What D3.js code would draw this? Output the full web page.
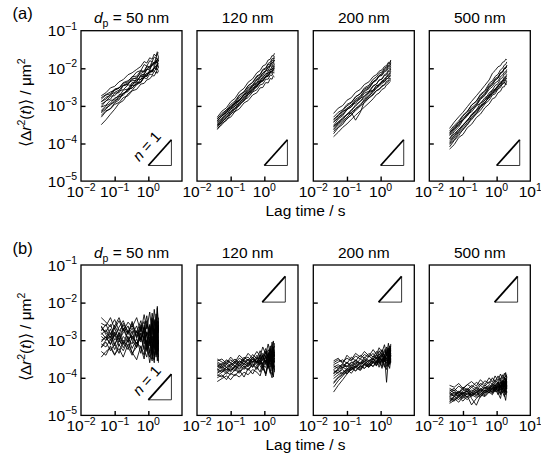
<!DOCTYPE html>
<html><head><meta charset="utf-8">
<script src="https://cdn.jsdelivr.net/npm/d3@7"></script>
<style>body{margin:0;background:#fff}svg{display:block}</style>
</head><body>
<svg id="c" width="541" height="466"></svg>
<script>
// lag times (s) shared by every trajectory
const lagTimes = [0.04,0.055,0.075,0.1,0.135,0.18,0.25,0.33,0.45,0.6,0.75,0.9,1.1,1.3,1.5,1.7,1.85,2.0];
const diameters = ["50", "120", "200", "500"];
const rowLabels = ["(a)", "(b)"];
const xTickExps = [-2, -1, 0, 1];
const yTickExps = [-1, -2, -3, -4, -5];
// MSD values as 100 × log10(MSD / µm²), one row per trajectory
const msdA50 = [
[-273,-265,-252,-248,-236,-230,-217,-212,-203,-195,-182,-186,-172,-176,-162,-168,-156,-160],
[-282,-271,-268,-255,-252,-240,-236,-222,-221,-206,-210,-196,-199,-186,-190,-178,-186,-176],
[-290,-277,-272,-258,-253,-238,-233,-224,-210,-206,-190,-194,-180,-182,-170,-173,-160,-170],
[-295,-288,-274,-273,-260,-257,-244,-246,-228,-230,-215,-220,-205,-210,-198,-203,-192,-198],
[-302,-286,-282,-266,-265,-246,-243,-226,-228,-208,-207,-194,-196,-182,-186,-172,-178,-170],
[-303,-298,-285,-284,-270,-268,-255,-252,-240,-237,-225,-228,-215,-218,-208,-212,-202,-206],
[-312,-300,-293,-279,-275,-258,-255,-238,-236,-218,-217,-202,-205,-190,-196,-182,-188,-178],
[-318,-309,-295,-290,-275,-272,-256,-253,-238,-236,-220,-222,-208,-210,-198,-204,-190,-196],
[-325,-313,-308,-296,-291,-278,-273,-260,-256,-242,-240,-231,-228,-220,-220,-211,-213,-207],
[-330,-315,-307,-292,-284,-267,-259,-242,-236,-219,-215,-204,-201,-190,-188,-180,-179,-172],
[-278,-270,-263,-258,-252,-245,-239,-233,-232,-222,-221,-213,-213,-205,-208,-200,-203,-197],
[-350,-337,-322,-309,-293,-286,-268,-259,-243,-238,-222,-220,-208,-207,-197,-197,-188,-192],
[-288,-282,-270,-264,-258,-246,-242,-230,-224,-214,-208,-203,-195,-193,-184,-186,-176,-180],
[-315,-305,-298,-286,-281,-266,-262,-246,-244,-228,-226,-214,-211,-203,-200,-193,-191,-186]];
const msdA120 = [
[-330,-314,-305,-289,-280,-263,-253,-237,-228,-212,-206,-194,-190,-178,-176,-166,-168,-160],
[-335,-320,-311,-296,-287,-271,-262,-246,-238,-223,-217,-205,-202,-190,-189,-178,-180,-172],
[-338,-328,-313,-307,-292,-285,-270,-262,-247,-241,-229,-226,-214,-214,-203,-204,-196,-197],
[-342,-326,-316,-300,-291,-273,-263,-247,-237,-220,-216,-203,-199,-187,-184,-174,-175,-168],
[-345,-333,-318,-310,-295,-286,-270,-262,-246,-238,-223,-219,-207,-205,-194,-194,-186,-186],
[-348,-338,-322,-316,-300,-293,-276,-270,-254,-248,-235,-233,-221,-219,-209,-209,-201,-202],
[-351,-335,-325,-309,-300,-283,-272,-256,-247,-231,-225,-213,-208,-198,-194,-185,-185,-178],
[-354,-344,-329,-323,-307,-300,-284,-278,-263,-257,-244,-242,-229,-229,-218,-219,-210,-212],
[-357,-341,-332,-316,-307,-290,-280,-265,-256,-240,-234,-222,-218,-207,-204,-195,-195,-188],
[-360,-350,-335,-330,-315,-308,-292,-286,-271,-265,-252,-251,-238,-239,-227,-229,-220,-223],
[-333,-324,-310,-305,-291,-287,-271,-266,-251,-248,-234,-234,-222,-222,-211,-213,-204,-207],
[-363,-346,-339,-321,-314,-295,-287,-269,-262,-244,-240,-227,-224,-212,-210,-200,-201,-193],
[-340,-326,-318,-302,-294,-278,-268,-252,-244,-228,-222,-212,-206,-196,-192,-184,-183,-178],
[-352,-342,-330,-318,-306,-296,-282,-272,-258,-250,-238,-234,-224,-220,-212,-208,-204,-200]];
const msdA200 = [
[-320,-306,-299,-285,-278,-264,-256,-243,-236,-222,-217,-208,-204,-195,-193,-184,-186,-178],
[-330,-317,-310,-296,-290,-276,-268,-255,-249,-235,-231,-221,-219,-209,-207,-199,-200,-193],
[-338,-323,-313,-300,-292,-276,-267,-252,-245,-229,-223,-213,-210,-199,-197,-187,-188,-180],
[-344,-330,-323,-309,-303,-288,-281,-266,-261,-246,-242,-231,-229,-219,-218,-208,-210,-202],
[-352,-335,-326,-310,-302,-286,-277,-262,-254,-238,-232,-220,-217,-206,-204,-194,-195,-188],
[-356,-345,-331,-323,-310,-301,-287,-280,-266,-259,-246,-244,-233,-232,-222,-221,-214,-215],
[-362,-347,-337,-322,-314,-297,-288,-273,-264,-248,-242,-232,-228,-217,-214,-205,-205,-198],
[-368,-357,-344,-335,-323,-313,-300,-292,-279,-271,-259,-257,-246,-244,-234,-233,-226,-227],
[-374,-358,-349,-333,-325,-308,-299,-284,-275,-259,-253,-242,-238,-227,-224,-215,-215,-208],
[-382,-370,-357,-348,-336,-325,-313,-303,-292,-281,-270,-266,-256,-253,-244,-241,-236,-233],
[-335,-327,-314,-310,-297,-293,-279,-275,-262,-258,-246,-246,-236,-235,-227,-227,-220,-221],
[-355,-342,-334,-323,-318,-338,-317,-288,-278,-268,-260,-255,-249,-244,-239,-235,-232,-230],
[-342,-333,-318,-306,-298,-282,-274,-259,-252,-236,-229,-219,-214,-203,-200,-192,-192,-185],
[-364,-351,-340,-330,-318,-307,-296,-284,-272,-264,-252,-248,-240,-236,-229,-225,-220,-218]];
const msdA500 = [
[-360,-343,-329,-317,-302,-288,-273,-260,-245,-231,-213,-206,-196,-193,-184,-182,-176,-177],
[-367,-352,-340,-325,-314,-298,-288,-272,-262,-245,-238,-227,-223,-211,-209,-199,-200,-193],
[-373,-356,-344,-327,-316,-298,-287,-269,-259,-240,-233,-222,-216,-204,-200,-191,-190,-183],
[-379,-364,-351,-337,-325,-310,-299,-283,-272,-256,-249,-239,-234,-222,-218,-210,-210,-203],
[-387,-368,-356,-338,-327,-309,-298,-280,-270,-251,-244,-232,-226,-214,-210,-201,-200,-193],
[-391,-379,-362,-353,-337,-326,-311,-300,-284,-274,-262,-258,-246,-241,-232,-228,-223,-222],
[-397,-380,-368,-351,-340,-322,-311,-293,-284,-265,-258,-246,-241,-228,-225,-215,-215,-208],
[-403,-391,-373,-364,-348,-337,-321,-312,-295,-285,-271,-268,-255,-251,-240,-239,-231,-232],
[-409,-392,-379,-362,-351,-332,-321,-303,-292,-273,-266,-254,-249,-236,-233,-223,-223,-216],
[-415,-403,-384,-376,-358,-349,-331,-322,-305,-295,-281,-278,-265,-261,-250,-249,-241,-243],
[-370,-360,-344,-338,-322,-316,-300,-293,-278,-271,-258,-257,-245,-242,-233,-232,-225,-228],
[-388,-374,-363,-350,-339,-325,-314,-301,-291,-276,-269,-261,-255,-246,-243,-236,-243,-234],
[-376,-360,-349,-333,-321,-305,-294,-277,-267,-249,-242,-231,-226,-213,-210,-200,-200,-192],
[-400,-385,-369,-358,-344,-330,-317,-305,-290,-279,-266,-262,-250,-246,-236,-233,-228,-226]];
const msdB50 = [
[-255,-262,-240,-270,-248,-275,-252,-265,-240,-278,-232,-270,-225,-285,-218,-262,-210,-275],
[-270,-278,-258,-290,-265,-248,-280,-255,-295,-262,-300,-248,-310,-240,-298,-255,-318,-250],
[-285,-272,-295,-268,-300,-280,-262,-298,-275,-305,-260,-315,-268,-330,-250,-305,-262,-320],
[-300,-292,-310,-285,-315,-290,-305,-275,-318,-282,-325,-278,-300,-340,-272,-335,-285,-345],
[-310,-318,-298,-325,-302,-312,-290,-322,-296,-335,-288,-318,-345,-290,-352,-280,-338,-295],
[-320,-305,-328,-310,-335,-300,-318,-340,-305,-320,-350,-300,-332,-355,-295,-345,-310,-360],
[-330,-340,-315,-338,-322,-345,-310,-332,-352,-315,-340,-305,-360,-318,-342,-300,-355,-320],
[-275,-258,-285,-262,-240,-270,-282,-250,-288,-258,-272,-235,-290,-228,-265,-300,-215,-280],
[-240,-252,-265,-245,-275,-260,-285,-268,-292,-270,-250,-288,-262,-300,-245,-282,-305,-260],
[-345,-330,-320,-340,-312,-328,-300,-335,-318,-290,-325,-345,-298,-330,-360,-285,-325,-300],
[-290,-300,-280,-310,-292,-320,-298,-288,-310,-280,-295,-325,-275,-305,-320,-268,-298,-310],
[-262,-285,-300,-278,-292,-268,-295,-310,-275,-300,-265,-290,-315,-255,-290,-318,-270,-295],
[-305,-290,-312,-280,-305,-270,-300,-285,-262,-298,-275,-310,-258,-320,-270,-340,-248,-330],
[-280,-295,-270,-300,-285,-310,-275,-300,-320,-265,-310,-280,-335,-262,-300,-230,-322,-268],
[-318,-300,-290,-315,-280,-305,-325,-290,-310,-295,-270,-330,-290,-350,-275,-310,-290,-355],
[-265,-280,-292,-260,-285,-255,-278,-262,-280,-248,-290,-258,-280,-245,-325,-252,-300,-240]];
const msdB120 = [
[-355,-350,-362,-345,-358,-340,-352,-335,-348,-330,-342,-318,-338,-310,-335,-305,-325,-315],
[-362,-368,-355,-360,-350,-362,-345,-355,-338,-350,-328,-345,-322,-350,-315,-340,-320,-335],
[-370,-362,-372,-365,-358,-368,-352,-360,-345,-362,-340,-355,-330,-360,-325,-352,-318,-345],
[-378,-385,-372,-380,-368,-375,-362,-370,-355,-368,-350,-372,-345,-365,-338,-370,-335,-358],
[-385,-378,-390,-375,-382,-365,-378,-360,-372,-355,-368,-380,-352,-375,-345,-382,-350,-370],
[-392,-398,-385,-392,-378,-388,-372,-380,-365,-378,-360,-375,-388,-355,-378,-392,-360,-385],
[-400,-392,-405,-388,-395,-380,-398,-375,-390,-370,-385,-360,-395,-365,-388,-355,-398,-368],
[-410,-402,-395,-405,-390,-398,-385,-392,-378,-385,-395,-370,-390,-362,-385,-400,-365,-380],
[-365,-372,-360,-368,-355,-362,-350,-345,-358,-340,-350,-335,-345,-325,-340,-315,-330,-308],
[-375,-368,-380,-362,-372,-355,-365,-350,-372,-345,-360,-340,-365,-332,-355,-328,-362,-330],
[-388,-380,-372,-385,-368,-378,-362,-370,-358,-352,-365,-345,-358,-340,-372,-335,-348,-360],
[-350,-358,-365,-352,-362,-348,-355,-365,-345,-358,-340,-352,-330,-345,-322,-338,-302,-330],
[-368,-375,-365,-372,-360,-370,-355,-365,-350,-360,-345,-365,-340,-372,-338,-360,-330,-350],
[-395,-385,-378,-380,-372,-385,-368,-378,-362,-375,-355,-368,-372,-350,-365,-340,-375,-348],
[-380,-372,-385,-370,-378,-362,-370,-368,-350,-362,-352,-340,-362,-335,-358,-325,-345,-338],
[-358,-365,-352,-360,-368,-355,-362,-350,-360,-348,-355,-362,-342,-355,-335,-362,-328,-342]];
const msdB200 = [
[-355,-348,-362,-340,-352,-335,-345,-330,-342,-325,-338,-320,-332,-312,-340,-308,-330,-315],
[-365,-358,-352,-362,-345,-355,-340,-348,-335,-345,-330,-340,-325,-345,-318,-338,-322,-335],
[-372,-365,-375,-358,-368,-352,-362,-345,-355,-348,-340,-352,-335,-358,-330,-348,-325,-342],
[-380,-388,-372,-378,-365,-372,-358,-365,-352,-360,-345,-362,-340,-355,-338,-365,-332,-350],
[-388,-380,-390,-375,-380,-368,-375,-362,-370,-355,-365,-350,-370,-345,-360,-352,-340,-358],
[-395,-385,-378,-390,-372,-382,-368,-375,-362,-370,-355,-372,-350,-365,-378,-345,-362,-350],
[-402,-392,-385,-378,-388,-372,-380,-365,-372,-360,-368,-355,-375,-350,-362,-370,-345,-360],
[-412,-398,-388,-380,-372,-382,-368,-375,-362,-370,-358,-365,-352,-372,-348,-360,-375,-352],
[-425,-408,-395,-382,-375,-368,-375,-362,-368,-355,-362,-348,-358,-345,-355,-340,-365,-342],
[-438,-420,-405,-390,-378,-370,-362,-358,-365,-350,-358,-345,-352,-340,-412,-350,-345,-350],
[-368,-375,-362,-370,-358,-365,-350,-358,-342,-352,-338,-348,-332,-342,-325,-338,-315,-330],
[-378,-370,-365,-372,-360,-355,-362,-350,-358,-342,-350,-338,-345,-330,-342,-325,-338,-320],
[-390,-375,-368,-360,-372,-358,-365,-352,-360,-348,-355,-342,-352,-338,-350,-330,-345,-325],
[-360,-352,-358,-348,-355,-342,-350,-338,-345,-335,-350,-328,-342,-325,-338,-320,-348,-310],
[-415,-400,-392,-385,-378,-372,-380,-365,-372,-358,-368,-352,-362,-348,-370,-345,-358,-340],
[-385,-378,-372,-368,-375,-362,-370,-355,-365,-350,-360,-345,-355,-342,-350,-338,-362,-335]];
const msdB500 = [
[-420,-425,-415,-428,-418,-410,-422,-405,-418,-400,-412,-395,-408,-390,-402,-388,-398,-392],
[-428,-435,-422,-430,-418,-425,-412,-420,-408,-415,-400,-412,-395,-408,-392,-405,-386,-400],
[-435,-428,-440,-425,-432,-420,-428,-415,-422,-410,-418,-405,-415,-400,-420,-398,-410,-402],
[-442,-450,-438,-445,-432,-440,-428,-435,-425,-430,-418,-428,-412,-432,-408,-425,-405,-418],
[-448,-440,-452,-438,-445,-432,-440,-428,-435,-422,-430,-418,-435,-412,-428,-440,-410,-425],
[-455,-462,-448,-455,-442,-450,-438,-445,-432,-440,-425,-438,-420,-442,-415,-430,-445,-420],
[-462,-455,-465,-450,-458,-445,-452,-440,-448,-435,-442,-428,-445,-422,-438,-450,-425,-440],
[-468,-460,-452,-462,-448,-472,-455,-445,-450,-438,-445,-432,-440,-455,-428,-445,-460,-435],
[-450,-445,-438,-448,-435,-455,-473,-448,-440,-432,-438,-425,-435,-420,-430,-415,-438,-420],
[-440,-432,-445,-435,-428,-438,-425,-432,-420,-428,-415,-422,-410,-425,-405,-418,-400,-412],
[-458,-450,-445,-440,-452,-438,-445,-432,-440,-428,-435,-422,-430,-445,-418,-435,-410,-428],
[-432,-440,-448,-442,-435,-448,-440,-430,-438,-425,-432,-418,-428,-412,-425,-408,-420,-396],
[-445,-438,-442,-430,-438,-425,-435,-420,-430,-418,-425,-412,-422,-408,-418,-400,-415,-405],
[-465,-450,-458,-445,-452,-440,-448,-435,-445,-430,-440,-425,-438,-418,-432,-412,-428,-415],
[-438,-448,-435,-442,-430,-445,-432,-440,-425,-435,-420,-432,-415,-428,-410,-422,-405,-430],
[-452,-458,-446,-450,-440,-446,-436,-452,-432,-440,-428,-436,-422,-432,-440,-418,-428,-410]];
// slope-1 guide triangles: [x0, x1, y0, y1]
const guideLow = [1.0, 4.85, 2.6e-5, 1.26e-4];
const guideHigh = [0.87, 4.2, 1.03e-2, 5.0e-2];

const rows = [
  {label: rowLabels[0], data: [msdA50, msdA120, msdA200, msdA500], guides: [guideLow, guideLow, guideLow, guideLow]},
  {label: rowLabels[1], data: [msdB50, msdB120, msdB200, msdB500], guides: [guideLow, guideHigh, guideHigh, guideHigh]}
];

const FONT = "'Liberation Sans', Arial, Helvetica, sans-serif";
const svg = d3.select("#c").attr("font-family", FONT);
const lefts = [81, 197, 313.3, 429.3];
const pw = 101, ph = 150.4;
const tops = [30.7, 265];

function sup(txt, exp) {
  txt.append("tspan").text("10");
  txt.append("tspan").attr("dy", -6.5).attr("font-size", 10.5)
     .text(exp < 0 ? "\u2212" + (-exp) : String(exp));
}

rows.forEach((row, r) => {
  const top = tops[r], bottom = top + ph;
  svg.append("text").attr("x", 12.5).attr("y", top - 11.5).attr("font-size", 16.5).text(row.label);

  // y-axis title
  const yt = svg.append("text").attr("transform", `translate(31,${top + 72}) rotate(-90)`)
    .attr("text-anchor", "middle").attr("font-size", 15.5);
  yt.append("tspan").text("\u27E8\u0394");
  yt.append("tspan").attr("font-style", "italic").text("r");
  yt.append("tspan").attr("dy", -6.5).attr("font-size", 10.5).text("2");
  yt.append("tspan").attr("dy", 6.5).text("(");
  yt.append("tspan").attr("font-style", "italic").text("t");
  yt.append("tspan").text(")\u27E9 / \u03BCm");
  yt.append("tspan").attr("dy", -6.5).attr("font-size", 10.5).text("2");

  // x-axis title
  svg.append("text").attr("x", 305.5).attr("y", bottom + 35).attr("text-anchor", "middle")
    .attr("font-size", 15.5).text("Lag time / s");

  row.data.forEach((series, p) => {
    const left = lefts[p];
    const x = d3.scaleLog().domain([1e-2, 10]).range([left, left + pw]);
    const y = d3.scaleLog().domain([1e-5, 1e-1]).range([bottom, top]);
    const g = svg.append("g");

    // panel title
    const tt = g.append("text").attr("x", left + pw / 2).attr("y", top - 7.5)
      .attr("text-anchor", "middle").attr("font-size", 15.5);
    if (p === 0) {
      tt.append("tspan").attr("font-style", "italic").text("d");
      tt.append("tspan").attr("dy", 4).attr("font-size", 10.5).text("p");
      tt.append("tspan").attr("dy", -4).text(" = " + diameters[p] + " nm");
    } else {
      tt.text(diameters[p] + " nm");
    }

    // trajectories
    const line = d3.line().x((d, i) => x(lagTimes[i])).y(d => y(Math.pow(10, d / 100)));
    g.append("g").selectAll("path").data(series).join("path")
      .attr("d", line).attr("fill", "none").attr("stroke", "#000")
      .attr("stroke-width", 0.85).attr("stroke-linejoin", "round");

    // axes (inward ticks)
    const ax = g.append("g").attr("transform", `translate(0,${bottom})`)
      .call(d3.axisBottom(x).tickValues([0.1, 1]).tickSize(-4.5).tickFormat(""));
    const ay = g.append("g").attr("transform", `translate(${left},0)`)
      .call(d3.axisLeft(y).tickValues([1e-4, 1e-3, 1e-2]).tickSize(-4.5).tickFormat(""));
    [ax, ay].forEach(a => { a.select(".domain").remove(); a.selectAll("line").attr("stroke", "#000").attr("stroke-width", 1.4); });

    // frame
    g.append("rect").attr("x", left).attr("y", top).attr("width", pw).attr("height", ph)
      .attr("fill", "none").attr("stroke", "#000").attr("stroke-width", 1.3);

    // x tick labels
    const xt = (p === 3) ? xTickExps : xTickExps.slice(0, 3);
    xt.forEach(e => {
      const t = g.append("text").attr("x", x(Math.pow(10, e))).attr("y", bottom + 16)
        .attr("text-anchor", "middle").attr("font-size", 15.5);
      sup(t, e);
    });
    // y tick labels
    if (p === 0) {
      yTickExps.forEach(e => {
        const t = g.append("text").attr("x", left - 4).attr("y", y(Math.pow(10, e)) + 5.5)
          .attr("text-anchor", "end").attr("font-size", 15.5);
        sup(t, e);
      });
    }

    // slope guide
    const gd = row.guides[p];
    const X0 = x(gd[0]), X1 = x(gd[1]), Y0 = y(gd[2]), Y1 = y(gd[3]);
    g.append("path").attr("d", `M${X0},${Y0}L${X1},${Y0}L${X1},${Y1}`)
      .attr("fill", "none").attr("stroke", "#000").attr("stroke-width", 0.8);
    g.append("line").attr("x1", X0).attr("y1", Y0).attr("x2", X1).attr("y2", Y1)
      .attr("stroke", "#000").attr("stroke-width", 1.8);
    if (p === 0) {
      const ang = Math.atan2(Y1 - Y0, X1 - X0) * 180 / Math.PI;
      const mx = (X0 + X1) / 2, my = (Y0 + Y1) / 2;
      const len = Math.hypot(X1 - X0, Y1 - Y0);
      const dx = (X1 - X0) / len, dy = (Y1 - Y0) / len;
      const nx = dy, ny = -dx; // normal toward upper-left
      const cx = mx + nx * 9 - dx * 4, cy = my + ny * 9 - dy * 4;
      const nt = g.append("text").attr("transform", `translate(${cx},${cy}) rotate(${ang})`)
        .attr("text-anchor", "middle").attr("font-size", 15);
      nt.append("tspan").attr("font-style", "italic").text("n");
      nt.append("tspan").text(" = 1");
    }
  });
});
</script>
</body></html>
